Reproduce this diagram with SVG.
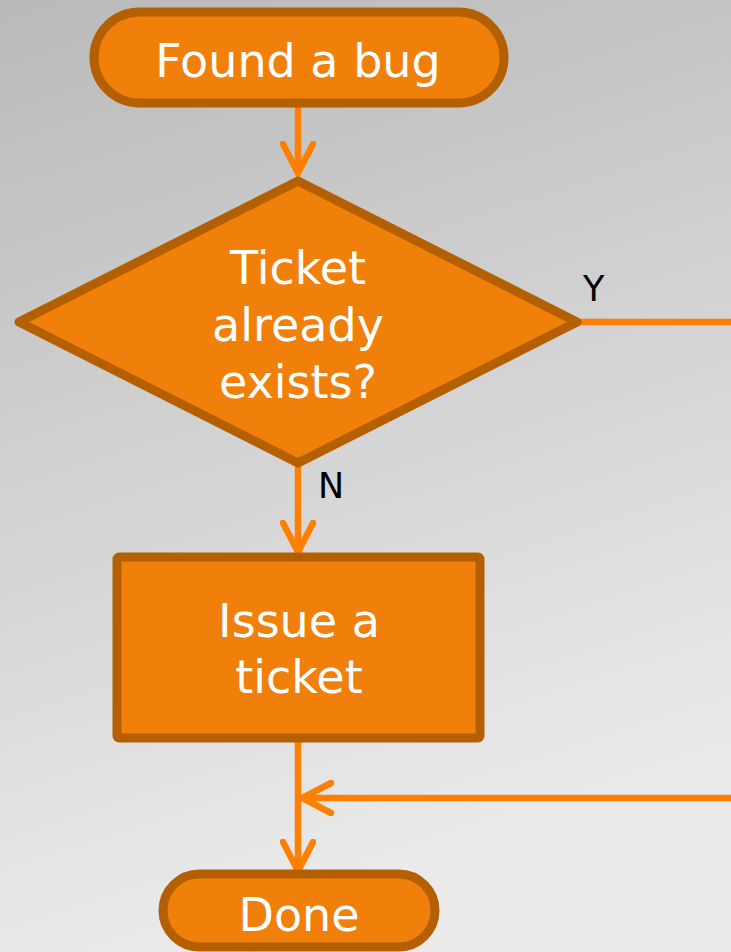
<svg xmlns="http://www.w3.org/2000/svg" width="731" height="952" viewBox="0 0 731 952">
<defs>
<linearGradient id="bg" x1="0" y1="0" x2="0.25" y2="1">
<stop offset="0" stop-color="#b9b9b9"/>
<stop offset="1" stop-color="#ebebeb"/>
</linearGradient>
<marker id="arr" viewBox="-32 -18 36 36" markerWidth="36" markerHeight="36" refX="0" refY="0" orient="auto" markerUnits="userSpaceOnUse">
<path d="M-29,-15 L0,0 L-29,15" fill="none" stroke="#ff8000" stroke-width="6.5" stroke-linecap="round" stroke-linejoin="miter"/>
</marker>
<style>
.shape{fill:#f0800a;stroke:#b35f02;stroke-width:9;stroke-linejoin:round}
.lbl{font-family:"DejaVu Sans",Verdana,sans-serif;font-size:46px;fill:#ffffff;text-anchor:middle}
.edge{font-family:"DejaVu Sans",Verdana,sans-serif;font-size:35px;fill:#000000}
.conn{fill:none;stroke:#ff8000;stroke-width:6.5}
</style>
</defs>
<rect x="0" y="0" width="731" height="952" fill="url(#bg)"/>
<g id="connectors">
<line class="conn" x1="298" y1="107" x2="298" y2="173" marker-end="url(#arr)"/>
<line class="conn" x1="298" y1="466" x2="298" y2="552" marker-end="url(#arr)"/>
<line class="conn" x1="298" y1="742" x2="298" y2="871" marker-end="url(#arr)"/>
<line class="conn" x1="580" y1="322" x2="731" y2="322"/>
<line class="conn" x1="731" y1="798" x2="302" y2="798" marker-end="url(#arr)"/>
<text class="edge" x="583" y="301">Y</text>
<text class="edge" x="318" y="498">N</text>
</g>
<g id="start">
<rect class="shape" x="94" y="12" width="410" height="91" rx="45.5"/>
<text class="lbl" x="298" y="77">Found a bug</text>
</g>
<g id="decision">
<polygon class="shape" points="298,181 577,322 298,463 19,322"/>
<text class="lbl" x="298" y="284">Ticket</text>
<text class="lbl" x="298" y="341">already</text>
<text class="lbl" x="298" y="398">exists?</text>
</g>
<g id="issue">
<rect class="shape" x="117" y="557" width="363" height="181" rx="2"/>
<text class="lbl" x="299" y="637">Issue a</text>
<text class="lbl" x="299" y="693">ticket</text>
</g>
<g id="done">
<rect class="shape" x="163" y="874" width="272" height="73" rx="36.5"/>
<text class="lbl" x="299" y="931">Done</text>
</g>
</svg>
